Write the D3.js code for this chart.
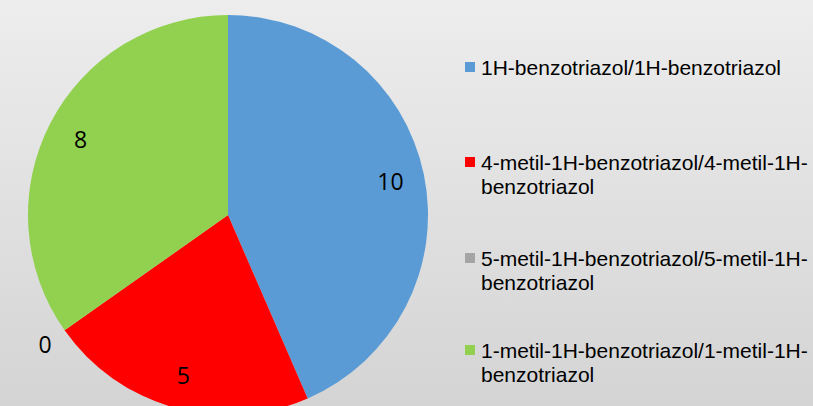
<!DOCTYPE html>
<html><head><meta charset="utf-8">
<script src="https://cdn.jsdelivr.net/npm/d3@7"></script>
<style>html,body{margin:0;padding:0;overflow:hidden;}svg{display:block;}</style>
</head><body>
<script>
const categories = [
  "1H-benzotriazol/1H-benzotriazol",
  "4-metil-1H-benzotriazol/4-metil-1H-benzotriazol",
  "5-metil-1H-benzotriazol/5-metil-1H-benzotriazol",
  "1-metil-1H-benzotriazol/1-metil-1H-benzotriazol"
];
const values = [10, 5, 0, 8];
const colors = ["#5b9bd5", "#ff0000", "#a5a5a5", "#92d050"];

const W = 813, H = 406;
const svg = d3.select("body").append("svg").attr("width", W).attr("height", H);
const defs = svg.append("defs");
const grad = defs.append("linearGradient").attr("id", "bg").attr("x1", 0).attr("y1", 0).attr("x2", 0).attr("y2", 1);
grad.append("stop").attr("offset", "0%").attr("stop-color", "#ededed");
grad.append("stop").attr("offset", "100%").attr("stop-color", "#d4d4d4");
svg.append("rect").attr("width", W).attr("height", H).attr("fill", "url(#bg)");

const cx = 228, cy = 215, R = 200;
const data = categories.map((c, i) => ({cat: c, value: values[i], color: colors[i]}));
const pie = d3.pie().value(d => d.value).sort(null);
const arcs = pie(data);
const arc = d3.arc().innerRadius(0).outerRadius(R);
const g = svg.append("g").attr("transform", `translate(${cx},${cy})`);
g.selectAll("path").data(arcs).join("path").attr("d", arc).attr("fill", d => d.data.color);

const labelIn = d3.arc().innerRadius(R * 0.83).outerRadius(R * 0.83);
const labelOut = d3.arc().innerRadius(R * 1.12).outerRadius(R * 1.12);
g.selectAll("text.lbl").data(arcs).join("text").attr("class", "lbl")
  .attr("transform", d => `translate(${(d.value === 0 ? labelOut : labelIn).centroid(d)})`)
  .attr("text-anchor", "middle").attr("dominant-baseline", "central")
  .attr("font-family", "'Open Sans', sans-serif").attr("font-size", 23).attr("fill", "#000")
  .text(d => d.data.value);

// legend
const legX = 465, textX = 481, maxW = 332, lineH = 23.5;
const legY = [67, 162, 258, 350];
const leg = svg.append("g").attr("font-family", "'Liberation Sans', Arial, sans-serif").attr("font-size", 21).attr("fill", "#000");
data.forEach((d, i) => {
  leg.append("rect").attr("x", legX).attr("y", legY[i] - 5).attr("width", 10).attr("height", 10).attr("fill", d.color);
  const t = leg.append("text").attr("x", textX).attr("y", legY[i]).attr("dominant-baseline", "central");
  const tokens = d.cat.match(/[^\-\/]+[\-\/]?/g);
  let line = "", lines = [];
  const probe = leg.append("text").attr("visibility", "hidden");
  tokens.forEach(tok => {
    const test = line + tok;
    probe.text(test);
    if (probe.node().getComputedTextLength() > maxW && line) { lines.push(line); line = tok; }
    else line = test;
  });
  lines.push(line);
  probe.remove();
  lines.forEach((l, j) => t.append("tspan").attr("x", textX).attr("dy", j === 0 ? 0 : lineH).text(l));
});
</script>
</body></html>
